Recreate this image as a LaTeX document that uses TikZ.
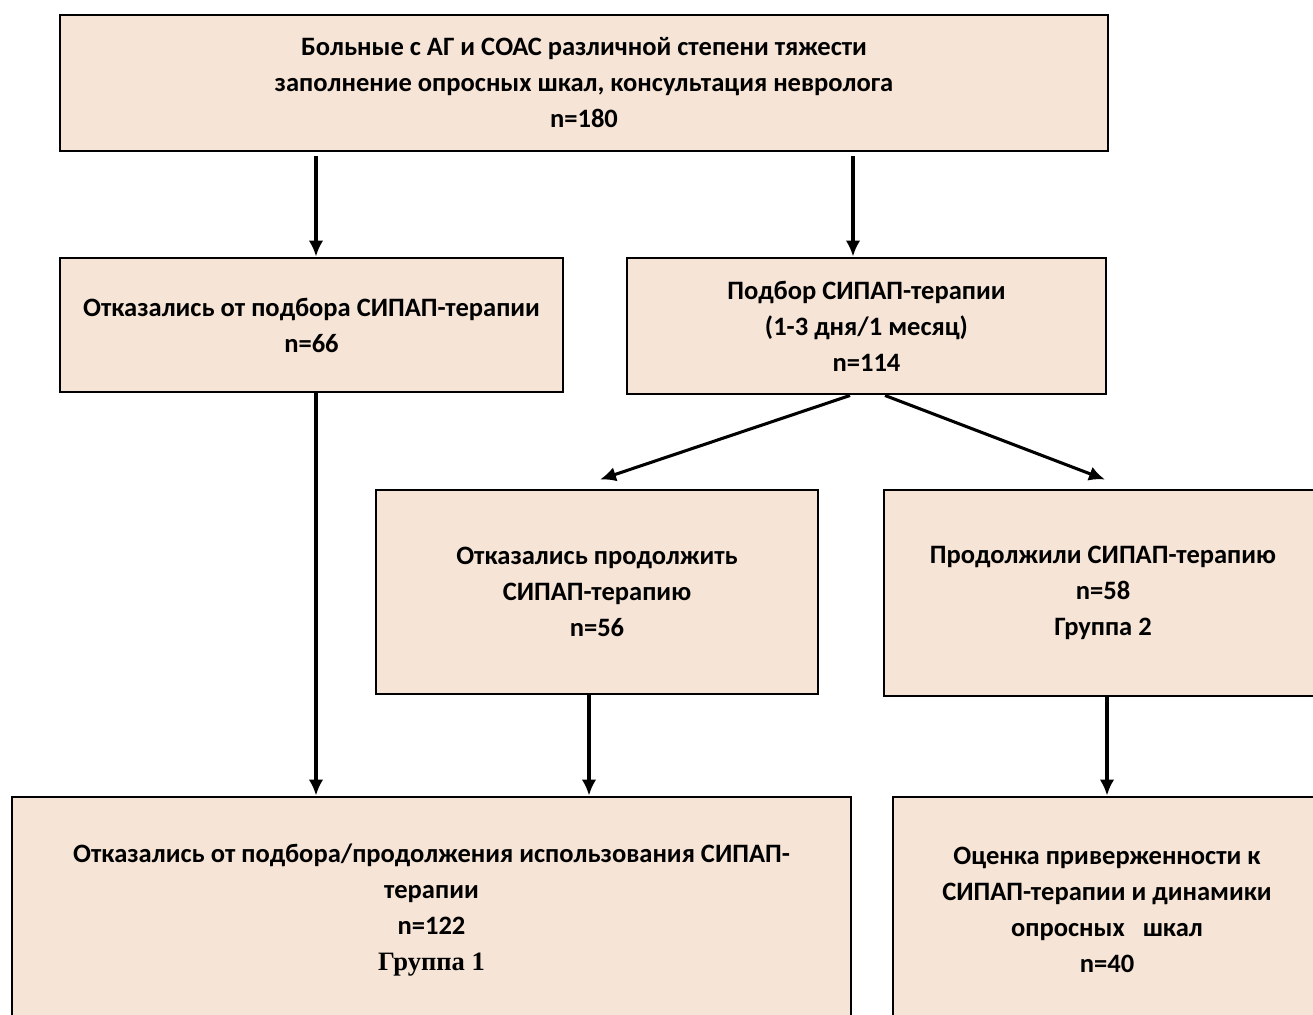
\documentclass[tikz,border=0pt]{standalone}
\usepackage{fontspec}
\setmainfont{Carlito}
\newfontfamily\timesf{Liberation Serif}
\usetikzlibrary{arrows.meta,calc}
\definecolor{boxfill}{HTML}{F6E4D6}
\tikzset{
  box/.style={draw=black, line width=2.2pt, fill=boxfill, align=center, inner sep=0pt,
    font=\bfseries\fontsize{19.9}{27}\selectfont},
  arr/.style={line width=2.3pt, -{Latex[length=12pt,width=11pt]}}
}
\begin{document}
\begin{tikzpicture}[x=0.75pt,y=-0.75pt]
\useasboundingbox (0,0) rectangle (1313,1014);
\clip (0,0) rectangle (1313,1014);
\node[box, minimum width=786pt, minimum height=102pt] (top) at (584,83)
  {Больные с АГ и СОАС различной степени тяжести\\заполнение опросных шкал, консультация невролога\\n=180};
\node[box, minimum width=377.25pt, minimum height=100.5pt] (lmid) at (311.5,325)
  {Отказались от подбора СИПАП-терапии\\n=66};
\node[box, minimum width=359.25pt, minimum height=102pt] (rmid) at (866.5,326)
  {Подбор СИПАП-терапии\\(1-3 дня/1 месяц)\\n=114};
\node[box, minimum width=331.5pt, minimum height=153pt] (mid) at (597,592)
  {Отказались продолжить\\СИПАП-терапию\\n=56};
\node[box, minimum width=328.5pt, minimum height=154.5pt] (right) at (1103,593)
  {Продолжили СИПАП-терапию\\n=58\\Группа 2};
\node[box, minimum width=629.25pt, minimum height=169.5pt] (bl) at (431.5,910)
  {Отказались от подбора/продолжения использования СИПАП-\\терапии\\n=122\\{\timesf\bfseries Группа 1}};
\node[box, minimum width=321pt, minimum height=169.5pt] (br) at (1107,910)
  {Оценка приверженности к\\СИПАП-терапии и динамики\\опросных\ \ \ шкал\\n=40};
\coordinate (xa) at (316,0);
\coordinate (xb) at (853,0);
\coordinate (xc) at (589,0);
\coordinate (xd) at (1107,0);
\coordinate (xs1) at (850,0);
\coordinate (xs2) at (885,0);
\coordinate (xt1) at (600,0);
\coordinate (xt2) at (1105,0);
\draw[arr, shorten <=3pt] (top.south -| xa) -- (lmid.north -| xa);
\draw[arr, shorten <=3pt] (top.south -| xb) -- (rmid.north -| xb);
\draw[arr] (lmid.south -| xa) -- (bl.north -| xa);
\draw[arr] (rmid.south -| xs1) -- ($(mid.north -| xt1)+(0,-9)$);
\draw[arr] (rmid.south -| xs2) -- ($(right.north -| xt2)+(0,-9)$);
\draw[arr] (mid.south -| xc) -- (bl.north -| xc);
\draw[arr] (right.south -| xd) -- (br.north -| xd);
\end{tikzpicture}
\end{document}
